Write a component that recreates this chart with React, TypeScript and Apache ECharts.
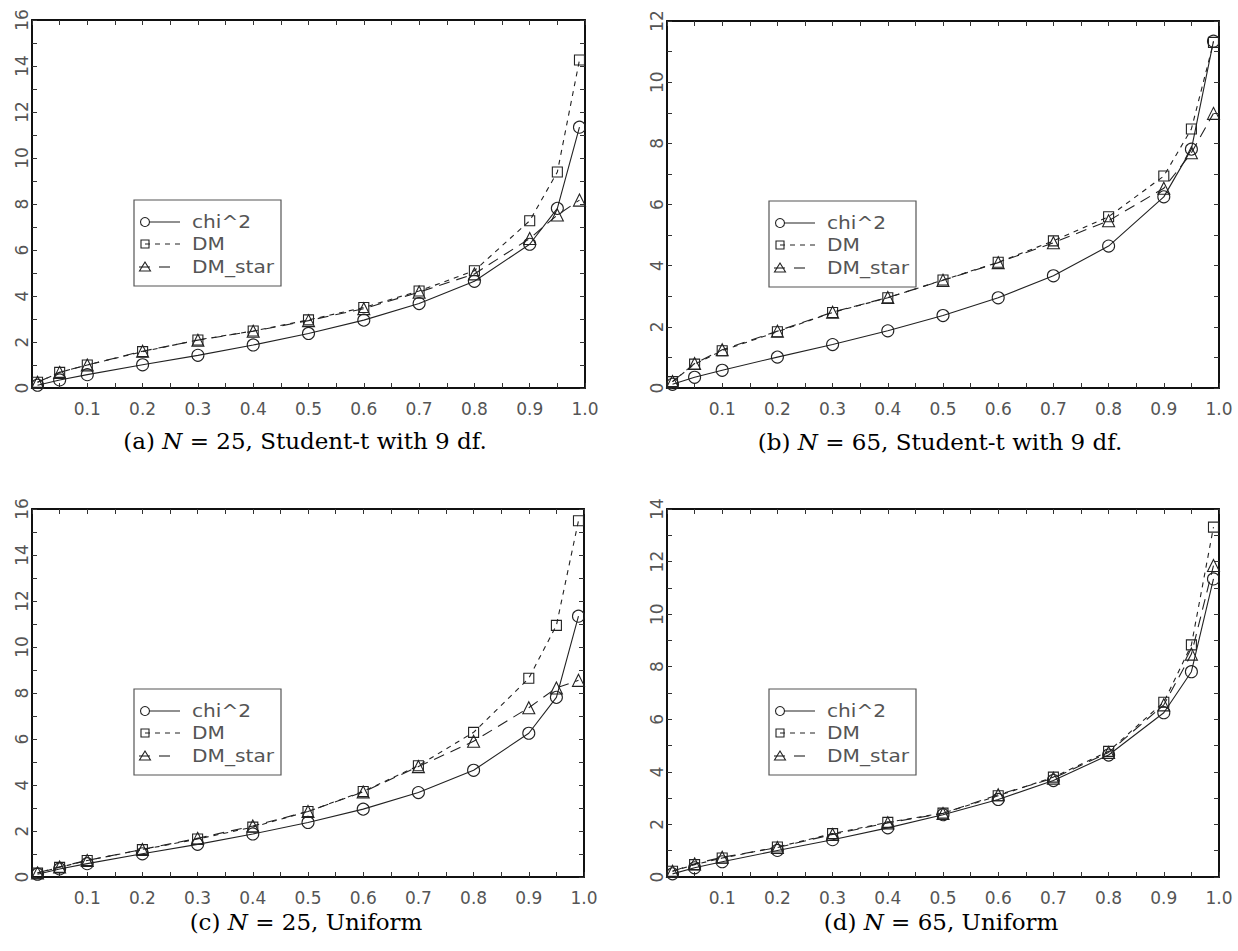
import React, { useEffect, useRef } from "react";
import * as echarts from "echarts";

// Probability levels (x axis)
const probs = [0.01, 0.05, 0.1, 0.2, 0.3, 0.4, 0.5, 0.6, 0.7, 0.8, 0.9, 0.95, 0.99];

// chi^2 reference quantiles (same curve in every panel)
const chiSquare = [0.12, 0.35, 0.58, 1.01, 1.42, 1.87, 2.37, 2.95, 3.67, 4.64, 6.25, 7.81, 11.34];

// (a) N = 25, Student-t with 9 df
const aDM = [0.25, 0.68, 1.0, 1.58, 2.09, 2.48, 2.96, 3.5, 4.22, 5.1, 7.27, 9.39, 14.26];
const aStar = [0.25, 0.68, 1.0, 1.6, 2.08, 2.47, 2.93, 3.45, 4.17, 4.96, 6.5, 7.52, 8.17];

// (b) N = 65, Student-t with 9 df
const bDM = [0.21, 0.78, 1.22, 1.84, 2.47, 2.95, 3.53, 4.11, 4.81, 5.6, 6.93, 8.47, 11.3];
const bStar = [0.21, 0.8, 1.25, 1.86, 2.48, 2.96, 3.52, 4.1, 4.75, 5.47, 6.53, 7.69, 8.98];

// (c) N = 25, Uniform
const cDM = [0.17, 0.42, 0.72, 1.19, 1.65, 2.17, 2.85, 3.72, 4.84, 6.29, 8.64, 10.94, 15.49];
const cStar = [0.18, 0.44, 0.72, 1.2, 1.68, 2.22, 2.85, 3.7, 4.8, 5.9, 7.36, 8.22, 8.55];

// (d) N = 65, Uniform
const dDM = [0.22, 0.47, 0.72, 1.14, 1.65, 2.08, 2.43, 3.09, 3.8, 4.78, 6.65, 8.83, 13.31];
const dStar = [0.22, 0.5, 0.75, 1.12, 1.62, 2.06, 2.42, 3.13, 3.76, 4.74, 6.55, 8.48, 11.85];

// y-axis maxima
const yMax = [16, 12, 16, 14];

// captions
const captions = [
  "(a) {i|N} = 25, Student-t with 9 df.",
  "(b) {i|N} = 65, Student-t with 9 df.",
  "(c) {i|N} = 25, Uniform",
  "(d) {i|N} = 65, Uniform",
];

const seriesNames = ["chi^2", "DM", "DM_star"];

const LINE = "#222";
const LABEL = "#555";

const grids = [
  { left: 32, top: 20, width: 553, height: 368 },
  { left: 667, top: 21, width: 552, height: 367 },
  { left: 32, top: 509, width: 552, height: 368 },
  { left: 667, top: 509, width: 552, height: 368 },
];

const captionPos = [
  { x: 305, y: 441 },
  { x: 940, y: 442 },
  { x: 306, y: 922 },
  { x: 941, y: 922 },
];

function xFmt(v: number) {
  const k = Math.round(v * 100);
  return k % 10 === 0 && k > 0 ? (k / 100).toFixed(1) : "";
}
function yFmt(v: number) {
  const k = Math.round(v);
  return k % 2 === 0 ? String(k) : "";
}

function buildOption() {
  const xAxis: any[] = [];
  const yAxis: any[] = [];
  const series: any[] = [];
  const graphic: any[] = [];
  const panelData = [
    [chiSquare, aDM, aStar],
    [chiSquare, bDM, bStar],
    [chiSquare, cDM, cStar],
    [chiSquare, dDM, dStar],
  ];
  const axisLine = { show: true, onZero: false, lineStyle: { color: "#111", width: 2 } };
  const axisTick = { show: true, inside: true, length: 5, lineStyle: { color: "#333", width: 1 } };
  const labelFont = { color: LABEL, fontSize: 17, fontFamily: "DejaVu Sans" };

  grids.forEach((g, i) => {
    // bottom & top x axes
    xAxis.push({
      type: "value", gridIndex: i, min: 0, max: 1, interval: 0.05, position: "bottom",
      axisLine, axisTick, splitLine: { show: false },
      axisLabel: { ...labelFont, margin: 12, formatter: xFmt },
    });
    xAxis.push({
      type: "value", gridIndex: i, min: 0, max: 1, interval: 0.05, position: "top",
      axisLine, axisTick, splitLine: { show: false }, axisLabel: { show: false },
    });
    // left & right y axes
    yAxis.push({
      type: "value", gridIndex: i, min: 0, max: yMax[i], interval: 1, position: "left",
      axisLine, axisTick, splitLine: { show: false },
      axisLabel: { ...labelFont, margin: 2, rotate: 90, formatter: yFmt },
    });
    yAxis.push({
      type: "value", gridIndex: i, min: 0, max: yMax[i], interval: 1, position: "right",
      axisLine, axisTick, splitLine: { show: false }, axisLabel: { show: false },
    });

    const styles = [
      { symbol: "circle", size: 12, dash: "solid" },
      { symbol: "rect", size: 10, dash: [5, 5] },
      { symbol: "triangle", size: 12, dash: [11, 7] },
    ];
    panelData[i].forEach((vals, s) => {
      series.push({
        name: seriesNames[s],
        type: "line",
        xAxisIndex: 2 * i,
        yAxisIndex: 2 * i,
        data: probs.map((p, k) => [p, vals[k]]),
        symbol: styles[s].symbol,
        symbolSize: styles[s].size,
        showAllSymbol: true,
        clip: false,
        lineStyle: { color: LINE, width: 1.1, type: styles[s].dash },
        itemStyle: { color: "rgba(0,0,0,0)", borderColor: LINE, borderWidth: 1.1 },
        emphasis: { disabled: true },
        z: 3 - s,
      });
    });

    // legend box drawn as graphic
    const lx = g.left + 102;
    const ly = g.top + 180;
    const txt = (t: string, y: number) => ({
      type: "text", x: 58, y, scaleX: 1.12,
      style: { text: t, fill: LABEL, fontSize: 18, fontFamily: "DejaVu Sans", verticalAlign: "middle", align: "left" },
    });
    graphic.push({
      type: "group", x: lx, y: ly,
      children: [
        { type: "rect", shape: { x: 0, y: 0, width: 147, height: 86 }, style: { fill: "#fff", stroke: "#555", lineWidth: 1.2 } },
        { type: "line", shape: { x1: 11, y1: 22, x2: 46, y2: 22 }, style: { stroke: LINE, lineWidth: 1.1 } },
        { type: "circle", shape: { cx: 11, cy: 22, r: 4.5 }, style: { fill: "#fff", stroke: LINE, lineWidth: 1.1 } },
        { type: "line", shape: { x1: 11, y1: 44, x2: 46, y2: 44 }, style: { stroke: LINE, lineWidth: 1.1, lineDash: [5, 5] } },
        { type: "rect", shape: { x: 7, y: 40, width: 8, height: 8 }, style: { fill: "rgba(0,0,0,0)", stroke: LINE, lineWidth: 1.1 } },
        { type: "line", shape: { x1: 5, y1: 67, x2: 16, y2: 67 }, style: { stroke: LINE, lineWidth: 1.1 } },
        { type: "line", shape: { x1: 25, y1: 67, x2: 36, y2: 67 }, style: { stroke: LINE, lineWidth: 1.1 } },
        { type: "polygon", shape: { points: [[11, 62], [16.5, 71], [5.5, 71]] }, style: { fill: "rgba(0,0,0,0)", stroke: LINE, lineWidth: 1.1 } },
        txt(seriesNames[0], 22),
        txt(seriesNames[1], 44),
        txt(seriesNames[2], 67),
      ],
    });

    graphic.push({
      type: "text", x: captionPos[i].x, y: captionPos[i].y,
      style: {
        text: captions[i], fill: "#000", fontSize: 23, fontFamily: "DejaVu Serif",
        align: "center", verticalAlign: "middle",
        rich: { i: { fontStyle: "italic", fontSize: 23, fontFamily: "DejaVu Serif", fill: "#000" } },
      },
    });
  });

  return {
    animation: false,
    backgroundColor: "#fff",
    grid: grids.map((g) => ({ ...g, containLabel: false })),
    xAxis, yAxis, series, graphic,
  };
}

export default function App() {
  const ref = useRef<HTMLDivElement>(null);
  useEffect(() => {
    if (!ref.current) return;
    const chart = echarts.init(ref.current, undefined, { renderer: "svg" });
    chart.setOption(buildOption() as any);
    return () => chart.dispose();
  }, []);
  return (
    <div
      ref={ref}
      style={{ position: "absolute", left: 0, top: 0, width: 1238, height: 951, background: "#fff" }}
    />
  );
}
